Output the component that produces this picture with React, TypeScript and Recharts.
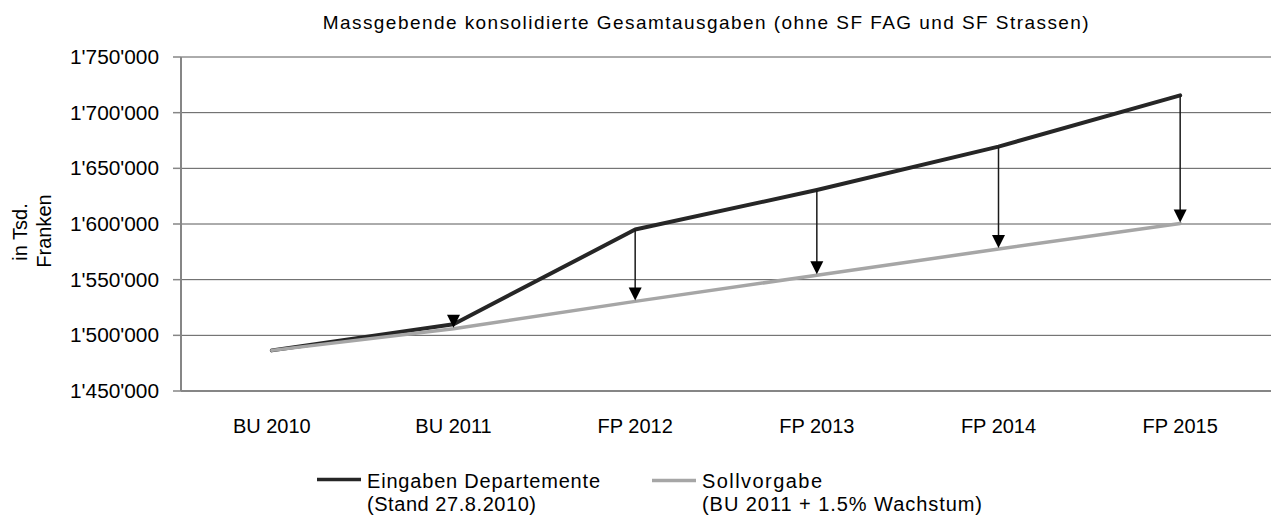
import React from 'react';
import { LineChart, Line, XAxis, YAxis, CartesianGrid, ReferenceLine, Legend } from 'recharts';

const categories = ['BU 2010', 'BU 2011', 'FP 2012', 'FP 2013', 'FP 2014', 'FP 2015'];
const eingabenDepartemente = [1486500, 1510000, 1595000, 1630500, 1669500, 1715500];
const sollvorgabe = [1486500, 1506000, 1530500, 1554000, 1577500, 1600500];
const yTicks = [1450000, 1500000, 1550000, 1600000, 1650000, 1700000, 1750000];
const yDomain = [1450000, 1750000];

const seriesNames = ['Eingaben Departemente', 'Sollvorgabe'];
const seriesNotes = ['(Stand 27.8.2010)', '(BU 2011 + 1.5% Wachstum)'];
const seriesColors = ['#262626', '#a6a6a6'];

const title = 'Massgebende konsolidierte Gesamtausgaben (ohne SF FAG und SF Strassen)';
const yLabelLines = ['in Tsd.', 'Franken'];

const FONT = '"Liberation Sans", Arial, Helvetica, sans-serif';

const data = categories.map((c, i) => ({
  pos: i + 0.5,
  name: c,
  eingaben: eingabenDepartemente[i],
  soll: sollvorgabe[i],
}));
const boundaryTicks = [...categories.map((_, i) => i), categories.length];
const centerTicks = data.map((d) => d.pos);

const fmt = (v: number) => String(v).replace(/\B(?=(\d{3})+(?!\d))/g, "'");

const YTick = (props: any) => {
  const { x, y, payload } = props;
  return (
    <text x={x} y={y + 7} textAnchor="end" fontFamily={FONT} fontSize={20} fill="#000" textLength={89} lengthAdjust="spacingAndGlyphs">
      {fmt(payload.value)}
    </text>
  );
};

const XTick = (props: any) => {
  const { x, y, payload } = props;
  const idx = Math.floor(payload.value);
  return (
    <text x={x} y={y + 32} textAnchor="middle" fontFamily={FONT} fontSize={20} fill="#000">
      {categories[idx]}
    </text>
  );
};

const ArrowShape = (props: any) => {
  const { x1, y1, x2, y2 } = props;
  const top = Math.min(y1, y2);
  const tip = Math.max(y1, y2) - 1;
  const headH = 13;
  const headW = 6.5;
  const x = x1;
  return (
    <g>
      {tip - headH > top && (
        <line x1={x} y1={top} x2={x} y2={tip - headH + 1} stroke="#1a1a1a" strokeWidth={1.5} />
      )}
      <polygon points={`${x - headW},${tip - headH} ${x + headW},${tip - headH} ${x},${tip}`} fill="#000" />
    </g>
  );
};

const LegendContent = () => {
  const items = [
    { x0: 317, lineY: 479.5 },
    { x0: 652, lineY: 480.5 },
  ];
  const widths = [[233, 169], [120, 280]];
  return (
    <svg width={1276} height={60} style={{ display: 'block' }}>
      {seriesNames.map((n, i) => (
        <g key={n}>
          <line x1={items[i].x0} y1={items[i].lineY - 455} x2={items[i].x0 + 44} y2={items[i].lineY - 455} stroke={seriesColors[i]} strokeWidth={3.5} />
          <text x={items[i].x0 + 50} y={488 - 455} fontFamily={FONT} fontSize={20} fill="#000" textLength={widths[i][0]}>
            {n}
          </text>
          <text x={items[i].x0 + 50} y={511 - 455} fontFamily={FONT} fontSize={20} fill="#000" textLength={widths[i][1]}>
            {seriesNotes[i]}
          </text>
        </g>
      ))}
    </svg>
  );
};

export default function App() {
  return (
    <div style={{ position: 'absolute', left: 0, top: 0, width: 1276, height: 515, background: '#fff' }}>
      <LineChart width={1276} height={515} data={data} margin={{ top: 57, right: 5, left: 0, bottom: 74 }}>
        <CartesianGrid horizontal={true} vertical={false} stroke="#595959" strokeWidth={1} xAxisId="b" />
        <XAxis
          xAxisId="b"
          dataKey="pos"
          type="number"
          domain={[0, categories.length]}
          ticks={boundaryTicks}
          tick={false}
          tickSize={6}
          height={10}
          axisLine={{ stroke: '#868686', strokeWidth: 2 }}
          tickLine={{ stroke: '#868686', strokeWidth: 1.5 }}
          allowDataOverflow
        />
        <XAxis
          xAxisId="c"
          dataKey="pos"
          type="number"
          domain={[0, categories.length]}
          ticks={centerTicks}
          tick={<XTick />}
          tickSize={0}
          tickMargin={0}
          height={40}
          axisLine={false}
          tickLine={false}
          allowDataOverflow
        />
        <YAxis
          domain={yDomain}
          ticks={yTicks}
          width={181}
          tickSize={8}
          tickMargin={14}
          tick={<YTick />}
          axisLine={{ stroke: '#868686', strokeWidth: 2 }}
          tickLine={{ stroke: '#868686', strokeWidth: 1.5 }}
          interval={0}
          allowDataOverflow
        />
        <Line
          xAxisId="b"
          type="linear"
          dataKey="eingaben"
          name={seriesNames[0]}
          stroke={seriesColors[0]}
          strokeWidth={4}
          dot={false}
          activeDot={false}
          strokeLinejoin="round"
          strokeLinecap="round"
          isAnimationActive={false}
        />
        <Line
          xAxisId="b"
          type="linear"
          dataKey="soll"
          name={seriesNames[1]}
          stroke={seriesColors[1]}
          strokeWidth={3.5}
          dot={false}
          activeDot={false}
          strokeLinejoin="round"
          strokeLinecap="round"
          isAnimationActive={false}
        />
        {data
          .filter((d) => d.eingaben > d.soll)
          .map((d) => (
            <ReferenceLine
              key={d.name}
              xAxisId="b"
              segment={[
                { x: d.pos, y: d.eingaben },
                { x: d.pos, y: d.soll },
              ]}
              shape={(p: any) => <ArrowShape {...p} />}
              ifOverflow="visible"
            />
          ))}
        <Legend
          layout="horizontal"
          verticalAlign="middle"
          align="center"
          wrapperStyle={{ top: 455, left: 0, width: 1276, height: 60 }}
          content={<LegendContent />}
        />
      </LineChart>
      <svg width={1276} height={515} style={{ position: 'absolute', left: 0, top: 0, pointerEvents: 'none' }}>
        <text x={322.7} y={29} fontFamily={FONT} fontSize={19} fill="#000" textLength={766}>
          {title}
        </text>
        <text transform="translate(27,232) rotate(-90)" textAnchor="middle" fontFamily={FONT} fontSize={20} fill="#000">
          {yLabelLines[0]}
        </text>
        <text transform="translate(51,231) rotate(-90)" textAnchor="middle" fontFamily={FONT} fontSize={20} fill="#000">
          {yLabelLines[1]}
        </text>
      </svg>
    </div>
  );
}
